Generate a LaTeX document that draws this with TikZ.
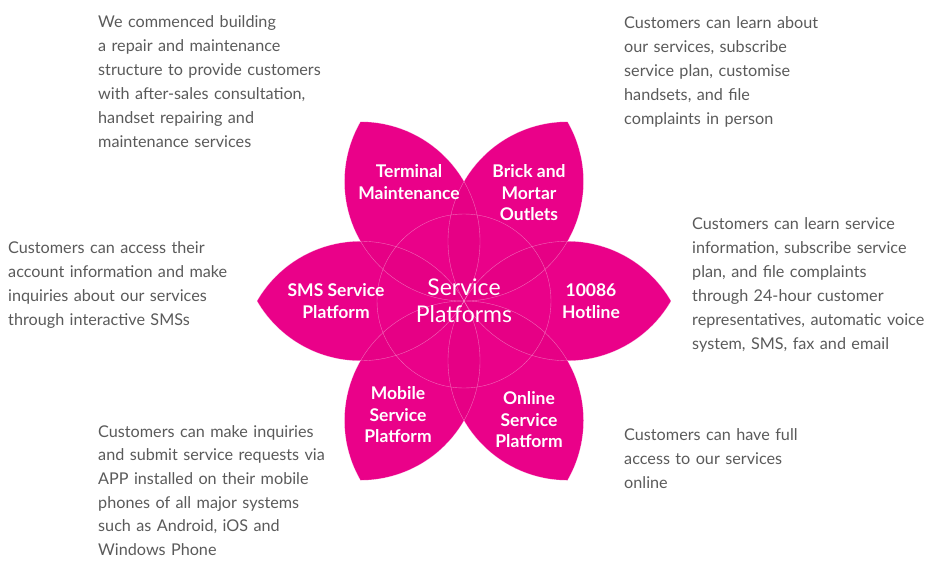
\documentclass[tikz,border=0pt]{standalone}
\usepackage{fontspec}
\setmainfont{Lato}
\usetikzlibrary{positioning}
\definecolor{petal_pink}{RGB}{238,2,142}
\definecolor{petal_shade}{RGB}{180,0,70}
\definecolor{info_gray}{RGB}{90,90,90}

\begin{document}
\begin{tikzpicture}[x=1pt,y=1pt,
	info_text/.style={anchor=base west,text width=260pt,align=left,inner sep=0pt,text=info_gray,font=\fontsize{16.2}{24}\selectfont},
	petal_label/.style={align=center,inner sep=0pt,text=white,font=\fontsize{17.5}{21.5}\selectfont\bfseries},
	petal_line/.style={white,draw opacity=0.4,line width=0.4pt}]

		\useasboundingbox (0,0) rectangle (928,-560);
		\coordinate (centre) at (464,-301);

		% petals
		\foreach \a in {0,60,...,300}
			\fill[petal_pink] (centre) arc[start angle=\a+150,end angle=\a+30,radius=119.5] arc[start angle=\a-30,end angle=\a-150,radius=119.5] -- cycle;
		\foreach \a in {0,60,...,300}
			\fill[petal_shade,fill opacity=0.06] (centre) arc[start angle=\a+150,end angle=\a+30,radius=119.5] arc[start angle=\a-30,end angle=\a-150,radius=119.5] -- cycle;
		\foreach \a in {0,60,...,300}
			\draw[petal_line] (centre) arc[start angle=\a+150,end angle=\a+30,radius=119.5] arc[start angle=\a-30,end angle=\a-150,radius=119.5] -- cycle;
		\draw[petal_line] (centre) circle[radius=87];

		\node[petal_label,font=\fontsize{23}{27}\selectfont] (platforms) at (centre) {Service\\Platforms};
		\node[petal_label] (terminal) at (409,-182) {Terminal\\Maintenance};
		\node[petal_label] (outlets) at (529,-193) {Brick and\\Mortar\\Outlets};
		\node[petal_label] (sms) at (336,-301) {SMS Service\\Platform};
		\node[petal_label] (hotline) at (591,-301) {10086\\Hotline};
		\node[petal_label] (mobile) at (398,-415) {Mobile\\Service\\Platform};
		\node[petal_label] (online) at (529,-420) {Online\\Service\\Platform};

		\node[info_text] (terminal_text) at (98,-27) {We commenced building\\a repair and maintenance\\structure to provide customers\\with after-sales consultation,\\handset repairing and\\maintenance services};
		\node[info_text] (outlets_text) at (624,-28) {Customers can learn about\\our services, subscribe\\service plan, customise\\handsets, and file\\complaints in person};
		\node[info_text] (sms_text) at (8,-253) {Customers can access their\\account information and make\\inquiries about our services\\through interactive SMSs};
		\node[info_text] (hotline_text) at (692,-229) {Customers can learn service\\information, subscribe service\\plan, and file complaints\\through 24-hour customer\\representatives, automatic voice\\system, SMS, fax and email};
		\node[info_text,font=\fontsize{16.2}{23.7}\selectfont] (mobile_text) at (98,-437) {Customers can make inquiries\\and submit service requests via\\APP installed on their mobile\\phones of all major systems\\such as Android, iOS and\\Windows Phone};
		\node[info_text] (online_text) at (624,-440) {Customers can have full\\access to our services\\online};
		\end{tikzpicture}
\end{document}
